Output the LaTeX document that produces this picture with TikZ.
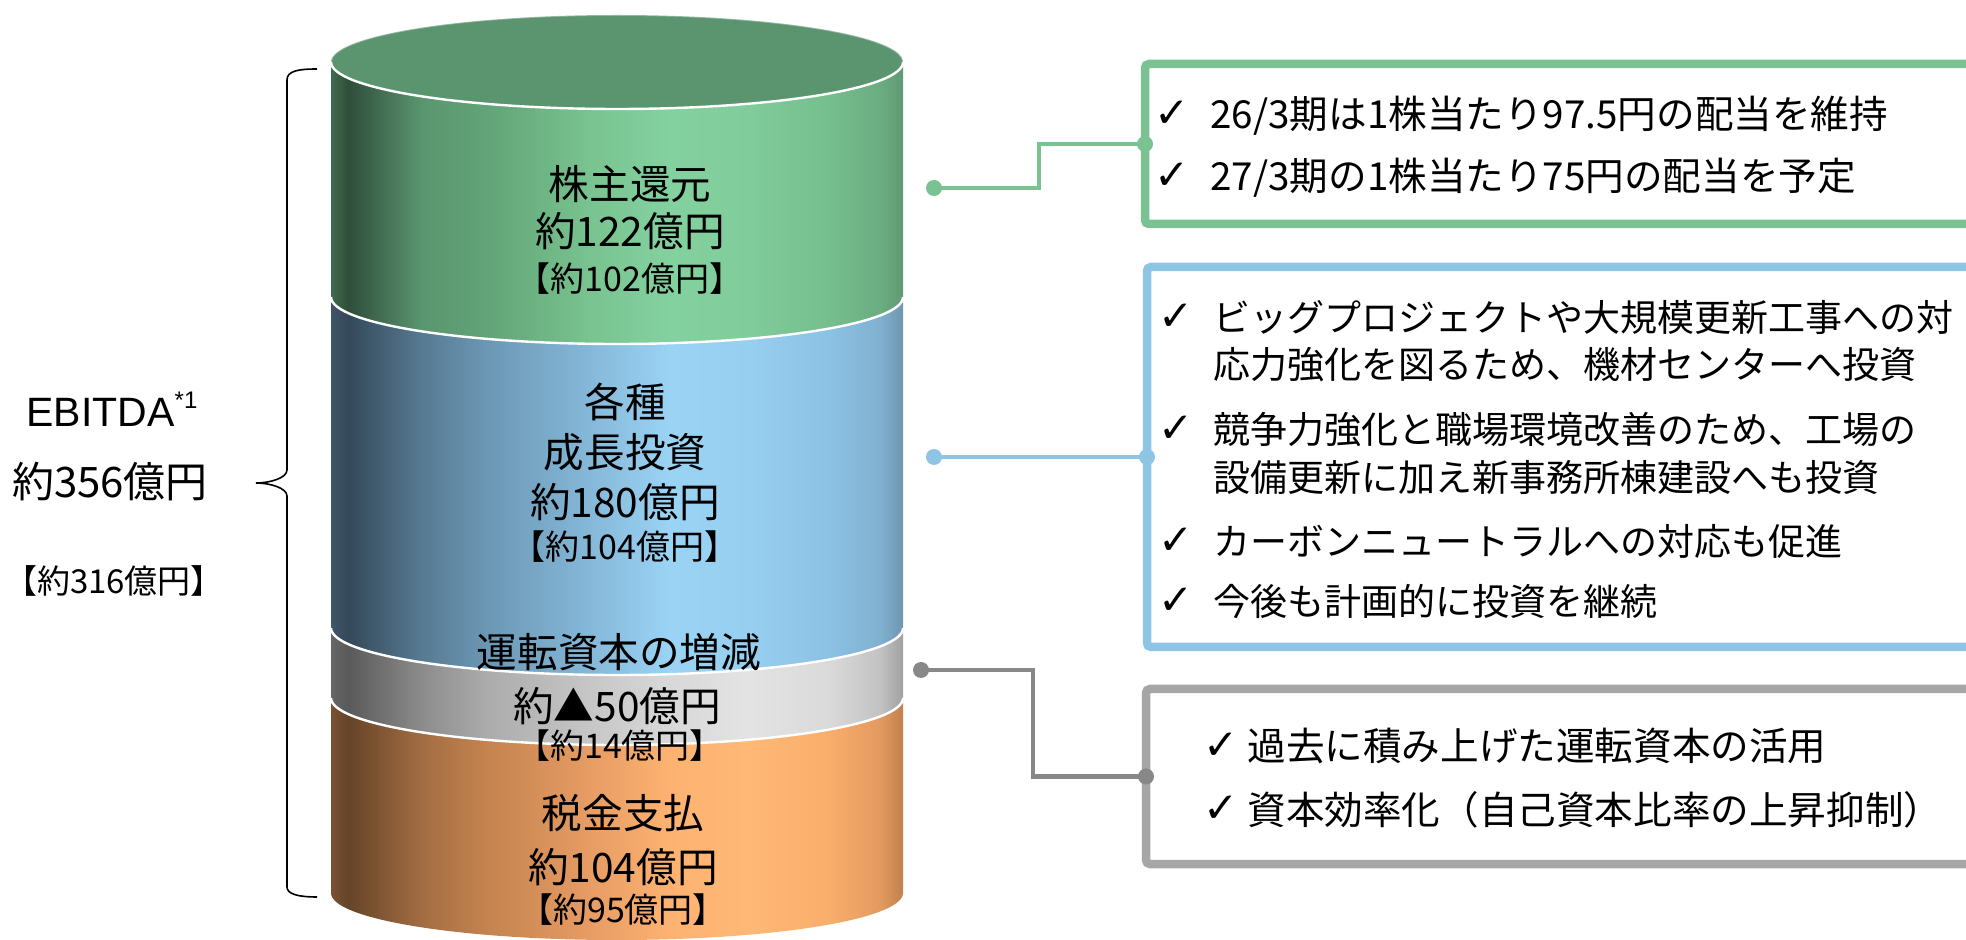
\documentclass[tikz,border=0pt]{standalone}
\usepackage{fontspec}
\setmainfont{Noto Sans CJK JP}
\newfontfamily\dejavu{DejaVu Sans}
\newfontfamily\libsans{Liberation Sans}
\usetikzlibrary{calc}

\definecolor{gA}{HTML}{3F6B4D}\definecolor{gB}{HTML}{2F4E3A}\definecolor{gC}{HTML}{5A9670}
\definecolor{gD}{HTML}{62A377}\definecolor{gE}{HTML}{78C38F}\definecolor{gF}{HTML}{84D1A0}
\definecolor{gG}{HTML}{80CC9A}\definecolor{gH}{HTML}{76BE8E}\definecolor{gI}{HTML}{6BAD80}
\definecolor{gJ}{HTML}{5E9972}
\definecolor{bA}{HTML}{3F5668}\definecolor{bB}{HTML}{34495A}\definecolor{bC}{HTML}{587A93}
\definecolor{bD}{HTML}{6B97B4}\definecolor{bE}{HTML}{85B7D8}\definecolor{bF}{HTML}{9AD3F4}
\definecolor{bG}{HTML}{97CFF0}\definecolor{bH}{HTML}{8CC2E4}\definecolor{bI}{HTML}{80B0D0}
\definecolor{bJ}{HTML}{6F95B0}
\definecolor{yA}{HTML}{666666}\definecolor{yB}{HTML}{5A5A5A}\definecolor{yC}{HTML}{8C8C8C}
\definecolor{yD}{HTML}{ABABAB}\definecolor{yE}{HTML}{C6C6C6}\definecolor{yF}{HTML}{D8D8D8}
\definecolor{yG}{HTML}{E3E3E3}\definecolor{yH}{HTML}{DADADA}\definecolor{yI}{HTML}{C2C2C2}
\definecolor{yJ}{HTML}{A0A0A0}
\definecolor{oA}{HTML}{7A5233}\definecolor{oB}{HTML}{654428}\definecolor{oC}{HTML}{A36D43}
\definecolor{oD}{HTML}{C4834F}\definecolor{oE}{HTML}{E69C63}\definecolor{oF}{HTML}{FDB271}
\definecolor{oG}{HTML}{FFB876}\definecolor{oH}{HTML}{FAAE6C}\definecolor{oI}{HTML}{E39A5F}
\definecolor{oJ}{HTML}{C0804E}
\definecolor{topgreen}{HTML}{5B9570}
\definecolor{boxgreen}{HTML}{7AC292}
\definecolor{boxblue}{HTML}{8EC4E4}
\definecolor{boxgray}{HTML}{A6A6A6}
\definecolor{linegray}{HTML}{888888}

\newcommand\mkshade[2]{\pgfdeclarehorizontalshading{#1}{100bp}{color(0bp)=(#2A); color(25bp)=(#2A); color(26.5bp)=(#2B); color(33bp)=(#2C); color(38.5bp)=(#2D); color(47.5bp)=(#2E); color(54.5bp)=(#2F); color(61.5bp)=(#2G); color(68.5bp)=(#2H); color(73bp)=(#2I); color(75bp)=(#2J); color(100bp)=(#2J)}}
\mkshade{shgreen}{g}
\mkshade{shblue}{b}
\mkshade{shgray}{y}
\mkshade{shorange}{o}

\tikzset{
  cylmain/.style={font=\fontsize{20.3pt}{24pt}\selectfont, anchor=base, inner sep=0pt},
  cylsmall/.style={font=\fontsize{17pt}{20pt}\selectfont, anchor=base, inner sep=0pt},
  boxtxt/.style={font=\fontsize{19.3pt}{22pt}\selectfont, anchor=base west, inner sep=0pt},
  boxtxtb/.style={font=\fontsize{18.5pt}{22pt}\selectfont, anchor=base west, inner sep=0pt},
  chk/.style={font=\dejavu\fontsize{21pt}{21pt}\selectfont, anchor=center, inner sep=0pt},
  framebox/.style={rectangle, line width=4.25pt, rounded corners=2pt, outer sep=0pt, inner sep=0pt, minimum width=430pt, anchor=west},
  conn/.style={line width=2.25pt},
  dotst/.style={circle, inner sep=0pt, minimum size=8pt, outer sep=0pt},
  edgeline/.style={white, line width=1.2pt}
}

\begin{document}
\begin{tikzpicture}[x=0.5pt, y=-0.5pt]
\useasboundingbox (0,0) rectangle (1966,940);
\clip (0,0) rectangle (1966,940);

% cylinder bands
\shade[shading=shgreen] (331,62) -- (331,297) .. controls (331,323) and (459,344) .. (617,344) .. controls (775,344) and (903,323) .. (903,297) -- (903,62) -- cycle;
\shade[shading=shblue] (331,297) .. controls (331,323) and (459,344) .. (617,344) .. controls (775,344) and (903,323) .. (903,297) -- (903,628) .. controls (903,654) and (775,675) .. (617,675) .. controls (459,675) and (331,654) .. (331,628) -- cycle;
\shade[shading=shgray] (331,628) .. controls (331,654) and (459,675) .. (617,675) .. controls (775,675) and (903,654) .. (903,628) -- (903,698) .. controls (903,724) and (775,745) .. (617,745) .. controls (459,745) and (331,724) .. (331,698) -- cycle;
\shade[shading=shorange] (331,698) .. controls (331,724) and (459,745) .. (617,745) .. controls (775,745) and (903,724) .. (903,698) -- (903,893) .. controls (903,919) and (775,940) .. (617,940) .. controls (459,940) and (331,919) .. (331,893) -- cycle;
% top ellipse
\fill[topgreen] (331,62) .. controls (331,36) and (459,15) .. (617,15) .. controls (775,15) and (903,36) .. (903,62) .. controls (903,88) and (775,109) .. (617,109) .. controls (459,109) and (331,88) .. (331,62) -- cycle;
\draw[white, opacity=0.35, line width=0.8pt] (331,62) .. controls (331,36) and (459,15) .. (617,15) .. controls (775,15) and (903,36) .. (903,62);
% white front edges
\draw[edgeline] (331,62) .. controls (331,88) and (459,109) .. (617,109) .. controls (775,109) and (903,88) .. (903,62);
\draw[edgeline] (331,297) .. controls (331,323) and (459,344) .. (617,344) .. controls (775,344) and (903,323) .. (903,297);
\draw[edgeline] (331,628) .. controls (331,654) and (459,675) .. (617,675) .. controls (775,675) and (903,654) .. (903,628);
\draw[edgeline] (331,698) .. controls (331,724) and (459,745) .. (617,745) .. controls (775,745) and (903,724) .. (903,698);

% cylinder texts
\node[cylmain] (t1) at (630,200) {株主還元};
\node[cylmain] (t2) at (630,247) {約122億円};
\node[cylsmall] (t3) at (630,292) {【約102億円】};
\node[cylmain] (t4) at (625,418) {各種};
\node[cylmain] (t5) at (625,468) {成長投資};
\node[cylmain] (t6) at (625,518) {約180億円};
\node[cylsmall] (t7) at (625,560) {【約104億円】};
\node[cylmain] (t8) at (619,668) {運転資本の増減};
\node[cylmain] (t9) at (617,722) {約▲50億円};
\node[cylsmall] (t10) at (620,759) {【約14億円】};
\node[cylmain] (t11) at (623,828) {税金支払};
\node[cylmain] (t12) at (623,882) {約104億円};
\node[cylsmall] (t13) at (623,922) {【約95億円】};

% left side
\node[anchor=base, inner sep=0pt] (ebitda) at (112,427) {\libsans\fontsize{20.5pt}{21pt}\selectfont EBITDA\raisebox{9pt}{\fontsize{12pt}{12pt}\selectfont *1}};
\node[anchor=base, inner sep=0pt] (total) at (110,498) {\fontsize{21pt}{24pt}\selectfont 約356億円};
\node[anchor=base, inner sep=0pt] (totalprev) at (114,594) {\fontsize{16.5pt}{20pt}\selectfont 【約316億円】};
\draw[line width=0.8pt] (317,69) .. controls (298,69) and (287,71) .. (287,80) -- (287,470) .. controls (287,478) and (270,483) .. (256,483) .. controls (270,483) and (287,488) .. (287,496) -- (287,887) .. controls (287,894) and (298,897) .. (317,897);

% boxes
\node[framebox, draw=boxgreen, minimum height=80pt] (gbox) at (1145,144) {};
\node[framebox, draw=boxblue, minimum height=190pt] (bbox) at (1147,457) {};
\node[framebox, draw=boxgray, minimum height=87.5pt] (ybox) at (1146,776.5) {};

% dots
\node[dotst, fill=boxgreen] (gdot) at (934,188) {};
\node[dotst, fill=boxblue] (bdot) at (934,457) {};
\node[dotst, fill=linegray] (ydot) at (921,670) {};

% connectors
\draw[conn, boxgreen] (gdot.center) -- ++(105,0) |- (gbox.west);
\draw[conn, boxblue] (bdot.center) -- (bbox.west);
\draw[conn, linegray] (ydot.center) -- ++(112,0) |- (ybox.west);
\node[dotst, fill=boxgreen] (gend) at (gbox.west) {};
\node[dotst, fill=boxblue] (bend) at (bbox.west) {};
\node[dotst, fill=linegray] (yend) at (ybox.west) {};

% green box text
\node[chk] (gc1) at (1172,114) {✓};
\node[boxtxt] (g1) at (1210,129) {26/3期は1株当たり97.5円の配当を維持};
\node[chk] (gc2) at (1172,176) {✓};
\node[boxtxt] (g2) at (1210,191) {27/3期の1株当たり75円の配当を予定};

% blue box text
\node[chk] (bc1) at (1176,317) {✓};
\node[boxtxtb] (b1) at (1213,332) {ビッグプロジェクトや大規模更新工事への対};
\node[boxtxtb] (b2) at (1213,379) {応力強化を図るため、機材センターへ投資};
\node[chk] (bc2) at (1176,429) {✓};
\node[boxtxtb] (b3) at (1213,444) {競争力強化と職場環境改善のため、工場の};
\node[boxtxtb] (b4) at (1213,492) {設備更新に加え新事務所棟建設へも投資};
\node[chk] (bc3) at (1176,541) {✓};
\node[boxtxtb] (b5) at (1213,556) {カーボンニュートラルへの対応も促進};
\node[chk] (bc4) at (1176,601) {✓};
\node[boxtxtb] (b6) at (1213,616) {今後も計画的に投資を継続};

% gray box text
\node[chk] (yc1) at (1221,746) {✓};
\node[boxtxt] (y1) at (1247,761) {過去に積み上げた運転資本の活用};
\node[chk] (yc2) at (1221,809) {✓};
\node[boxtxt] (y2) at (1247,824) {資本効率化（自己資本比率の上昇抑制）};
\end{tikzpicture}
\end{document}
